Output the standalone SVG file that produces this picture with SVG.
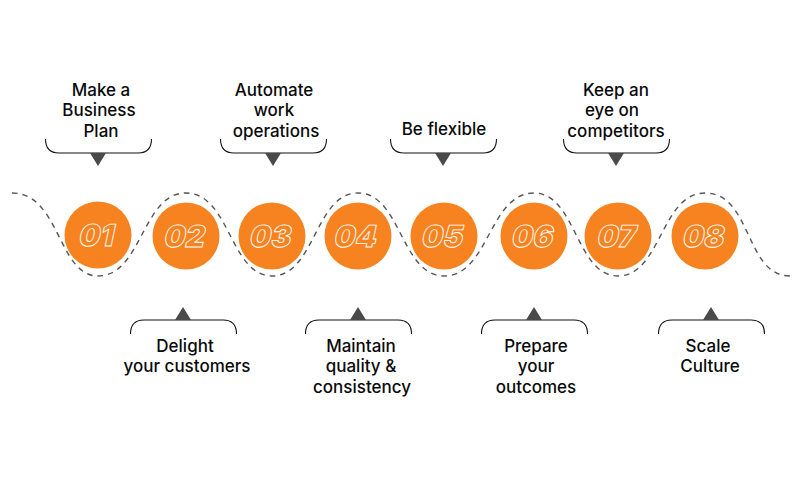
<svg xmlns="http://www.w3.org/2000/svg" width="800" height="479" viewBox="0 0 800 479">
<defs><style>
.c{fill:#f68320}
.n{font-family:Inter,"Liberation Sans",sans-serif;font-size:30px;font-weight:900;fill:none;stroke:#fff;stroke-width:.9;text-anchor:middle}
.t{font-family:Inter,"Liberation Sans",sans-serif;font-size:17px;font-weight:500;fill:#0a0a0a;text-anchor:middle}
.b{fill:none;stroke:#111;stroke-width:1.1}
.a{fill:#4a4a4a}
.w{fill:none;stroke:#555;stroke-width:1.4;stroke-dasharray:5.500 5}
</style></defs>
<rect width="800" height="479" fill="#fff"/>
<g id="connectors">
<path class="w" d="M12 193C60 193 58 276 98 276C142 276 142 193 186 193C230 193 230 276 272 276C315 276 315 193 358 193C401 193 401 276 444 276C489 276 489 193 534 193C576 193 576 276 618 276C661 276 661 193 705 193C752 193 745 276 790 276"/>
</g>
<g id="node1"><circle class="c" cx="98" cy="235" r="33.5"/><text class="n" transform="translate(95 246) skewX(-12)">01</text></g>
<g id="node2"><circle class="c" cx="186" cy="236" r="33.5"/><text class="n" transform="translate(183 246.500) skewX(-12)">02</text></g>
<g id="node3"><circle class="c" cx="272" cy="236" r="33.5"/><text class="n" transform="translate(269 246.500) skewX(-12)">03</text></g>
<g id="node4"><circle class="c" cx="358" cy="236" r="33.5"/><text class="n" transform="translate(354 246.500) skewX(-12)">04</text></g>
<g id="node5"><circle class="c" cx="444" cy="236" r="33.5"/><text class="n" transform="translate(441 246.500) skewX(-12)">05</text></g>
<g id="node6"><circle class="c" cx="534" cy="236" r="33.5"/><text class="n" transform="translate(531 246.500) skewX(-12)">06</text></g>
<g id="node7"><circle class="c" cx="618" cy="236" r="33.5"/><text class="n" transform="translate(615 246.500) skewX(-12)">07</text></g>
<g id="node8"><circle class="c" cx="705" cy="236" r="33.5"/><text class="n" transform="translate(702 246.500) skewX(-12)">08</text></g>
<g id="label1"><path class="b" d="M45.500 139C45.500 148 50 153 59 153H138C147 153 151.500 148 151.500 139"/><path class="a" d="M90 153H106L98 166Z"/><text class="t" x="101" y="95.500">Make a</text><text class="t" x="99" y="115.500">Business</text><text class="t" x="101" y="136.500">Plan</text></g>
<g id="label2"><path class="b" d="M130.500 334C130.500 325 135 320 144 320H223C232 320 236.500 325 236.500 334"/><path class="a" d="M175 320H191L183 307Z"/><text class="t" x="185" y="351.500">Delight</text><text class="t" x="187" y="371.500">your customers</text></g>
<g id="label3"><path class="b" d="M220.500 139C220.500 148 225 153 234 153H313C322 153 326.500 148 326.500 139"/><path class="a" d="M265 153H281L273 166Z"/><text class="t" x="274" y="95.500">Automate</text><text class="t" x="274" y="115.500">work</text><text class="t" x="276" y="136.500">operations</text></g>
<g id="label4"><path class="b" d="M305.500 334C305.500 325 310 320 319 320H398C407 320 411.500 325 411.500 334"/><path class="a" d="M350 320H366L358 307Z"/><text class="t" x="361" y="351.500">Maintain</text><text class="t" x="361" y="371.500">quality &amp;</text><text class="t" x="362" y="392.500">consistency</text></g>
<g id="label5"><path class="b" d="M390.500 139C390.500 148 395 153 404 153H483C492 153 496.500 148 496.500 139"/><path class="a" d="M435 153H451L443 166Z"/><text class="t" x="444" y="134.500">Be flexible</text></g>
<g id="label6"><path class="b" d="M481.500 334C481.500 325 486 320 495 320H574C583 320 587.500 325 587.500 334"/><path class="a" d="M526 320H542L534 307Z"/><text class="t" x="536" y="351.500">Prepare</text><text class="t" x="536" y="371.500">your</text><text class="t" x="536" y="392.500">outcomes</text></g>
<g id="label7"><path class="b" d="M563.500 139C563.500 148 568 153 577 153H656C665 153 669.500 148 669.500 139"/><path class="a" d="M608 153H624L616 166Z"/><text class="t" x="616" y="95.500">Keep an</text><text class="t" x="612" y="115.500">eye on</text><text class="t" x="616" y="136.500">competitors</text></g>
<g id="label8"><path class="b" d="M658.500 334C658.500 325 663 320 672 320H751C760 320 764.500 325 764.500 334"/><path class="a" d="M703 320H719L711 307Z"/><text class="t" x="708" y="351.500">Scale</text><text class="t" x="710" y="371.500">Culture</text></g>
</svg>
